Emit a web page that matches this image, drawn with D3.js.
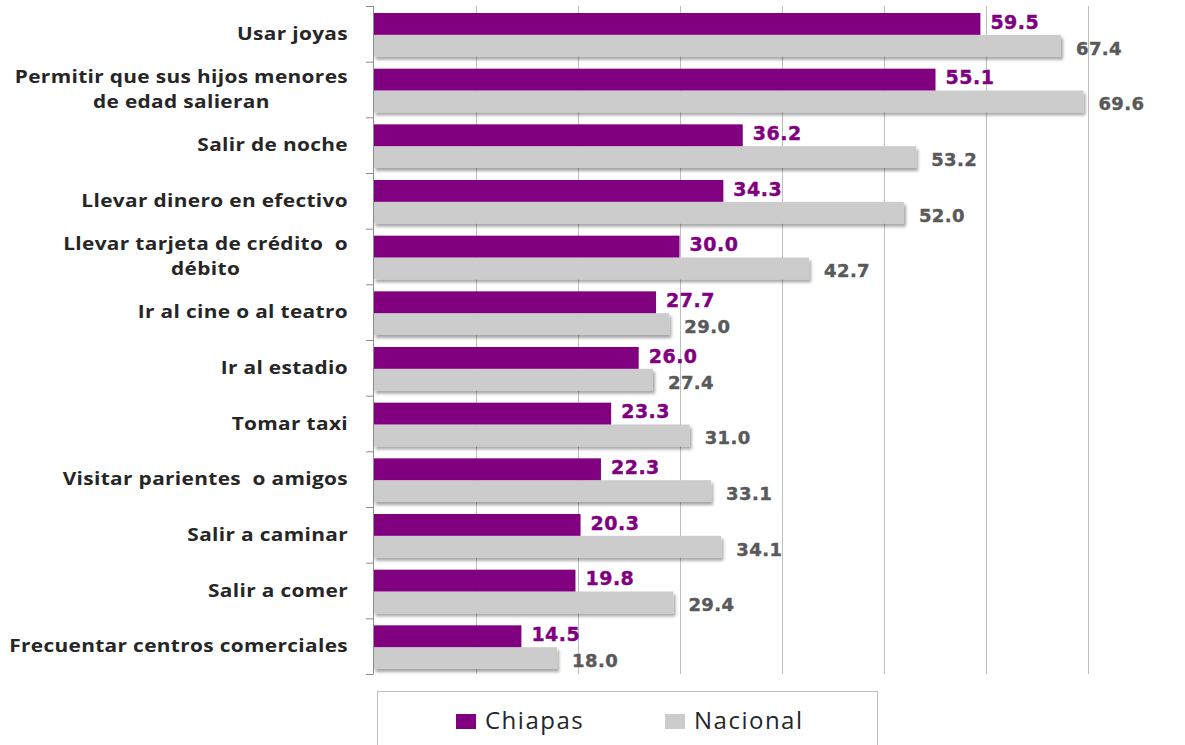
<!DOCTYPE html>
<html>
<head>
<meta charset="utf-8">
<script src="https://cdn.jsdelivr.net/npm/d3@7"></script>
<style>
	body { margin: 0; background: #fff; }
	svg { display: block; }
</style>
</head>
<body>
<svg id="chart"></svg>
<script>
/* chart data */
var categories = [
	["Usar joyas"],
	["Permitir que sus hijos menores", "de edad salieran"],
	["Salir de noche"],
	["Llevar dinero en efectivo"],
	["Llevar tarjeta de crédito  o", "débito"],
	["Ir al cine o al teatro"],
	["Ir al estadio"],
	["Tomar taxi"],
	["Visitar parientes  o amigos"],
	["Salir a caminar"],
	["Salir a comer"],
	["Frecuentar centros comerciales"]
];
var chiapas = [59.5, 55.1, 36.2, 34.3, 30.0, 27.7, 26.0, 23.3, 22.3, 20.3, 19.8, 14.5];
var nacional = [67.4, 69.6, 53.2, 52.0, 42.7, 29.0, 27.4, 31.0, 33.1, 34.1, 29.4, 18.0];
var series = ["Chiapas", "Nacional"];
var x_ticks = [10, 20, 30, 40, 50, 60, 70, 80];

var colors = { "Chiapas": "#800080", "Nacional": "#cccccc" };

var width = 1185, height = 745;

var svg = d3.select("#chart")
	.attr("width", width)
	.attr("height", height);

// drop shadow for the grey bars
var defs = svg.append("defs");
var shadow = defs.append("filter").attr("id", "shadow")
	.attr("x", "-5%").attr("y", "-20%").attr("width", "115%").attr("height", "160%");
shadow.append("feDropShadow")
	.attr("dx", 2).attr("dy", 3)
	.attr("stdDeviation", 1.6)
	.attr("flood-color", "#000")
	.attr("flood-opacity", 0.35);

var x = d3.scaleLinear().domain([0, 80]).range([373.5, 373.5 + 816]);

var y = d3.scaleBand()
	.domain(d3.range(categories.length))
	.range([6, 674]);

// two bars per category: inner band
var y_inner = d3.scaleBand()
	.domain(series)
	.range([7, y.bandwidth() - 5]);

// gridlines
svg.append("g").attr("class", "grid")
	.selectAll("line")
	.data(x_ticks)
	.enter().append("line")
	.attr("x1", function(d){ return Math.round(x(d)) + 0.5; })
	.attr("x2", function(d){ return Math.round(x(d)) + 0.5; })
	.attr("y1", y.range()[0])
	.attr("y2", y.range()[1])
	.attr("stroke", "#bfbfbf")
	.attr("stroke-width", 1);

// bars
var rows = svg.append("g").attr("class", "bars")
	.selectAll("g")
	.data(categories)
	.enter().append("g")
	.attr("transform", function(d, i){ return "translate(0," + y(i) + ")"; });

rows.append("rect")
	.attr("x", x(0))
	.attr("y", y_inner("Nacional"))
	.attr("width", function(d, i){ return x(nacional[i]) - x(0); })
	.attr("height", y_inner.bandwidth())
	.attr("fill", colors["Nacional"])
	.attr("filter", "url(#shadow)");

rows.append("rect")
	.attr("x", x(0))
	.attr("y", y_inner("Chiapas"))
	.attr("width", function(d, i){ return x(chiapas[i]) - x(0); })
	.attr("height", y_inner.bandwidth())
	.attr("fill", colors["Chiapas"]);

// value labels
rows.append("text")
	.attr("x", function(d, i){ return x(chiapas[i]) + 10; })
	.attr("y", y_inner("Chiapas") + y_inner.bandwidth() / 2 - 2)
	.attr("dy", "0.36em")
	.attr("font-family", "DejaVu Sans")
	.attr("font-weight", "bold")
	.attr("font-size", 19)
	.attr("letter-spacing", 0.5)
	.attr("stroke", colors["Chiapas"])
	.attr("stroke-width", 0.4)
	.attr("fill", colors["Chiapas"])
	.text(function(d, i){ return chiapas[i].toFixed(1); });

rows.append("text")
	.attr("x", function(d, i){ return x(nacional[i]) + 15; })
	.attr("y", y_inner("Nacional") + y_inner.bandwidth() / 2 + 2.5)
	.attr("dy", "0.36em")
	.attr("font-family", "DejaVu Sans")
	.attr("font-weight", "bold")
	.attr("font-size", 18)
	.attr("letter-spacing", 0.4)
	.attr("stroke", "#595959")
	.attr("stroke-width", 0.4)
	.attr("fill", "#595959")
	.text(function(d, i){ return nacional[i].toFixed(1); });

// left axis with outward ticks at band edges
var axis = svg.append("g").attr("class", "axis");
axis.append("line")
	.attr("x1", 373.5).attr("x2", 373.5)
	.attr("y1", y.range()[0]).attr("y2", y.range()[1])
	.attr("stroke", "#8c8c8c");
axis.selectAll("line.tick")
	.data(d3.range(categories.length + 1))
	.enter().append("line")
	.attr("class", "tick")
	.attr("x1", 366).attr("x2", 373.5)
	.attr("y1", function(d){ return y.range()[0] + d * y.step() + 0.5; })
	.attr("y2", function(d){ return y.range()[0] + d * y.step() + 0.5; })
	.attr("stroke", "#8c8c8c");

// category labels (glyphs are drawn wide in the original, so stretch them)
var line_height = 25;
var stretch = 1.19;
var labels = svg.append("g").attr("class", "labels")
	.selectAll("g")
	.data(categories)
	.enter().append("g")
	.attr("transform", function(d, i){
		return "translate(348," + (y(i) + y.bandwidth() / 2) + ") scale(" + stretch + ",1)";
	});

labels.each(function(lines){
	var g = d3.select(this);
	var first = null;
	lines.forEach(function(line, k){
		var t = g.append("text")
			.attr("y", (k - (lines.length - 1) / 2) * line_height)
			.attr("dy", "0.35em")
			.attr("font-family", "Open Sans")
			.attr("font-weight", "bold")
			.attr("font-size", 17.5)
			.attr("letter-spacing", 0.3)
			.attr("fill", "#262626")
			.attr("xml:space", "preserve")
			.text(line);
		if(k == 0){
			t.attr("x", 0).attr("text-anchor", "end");
			first = t.node().getComputedTextLength();
		} else {
			t.attr("x", -first / 2).attr("text-anchor", "middle");
		}
	});
});

// legend
var legend = svg.append("g").attr("class", "legend");
legend.append("rect")
	.attr("x", 377.5).attr("y", 691.5)
	.attr("width", 500).attr("height", 80)
	.attr("fill", "#fff")
	.attr("stroke", "#bfbfbf");

var legend_x = { "Chiapas": 456, "Nacional": 665 };
var item = legend.selectAll("g")
	.data(series)
	.enter().append("g")
	.attr("transform", function(d){ return "translate(" + legend_x[d] + ",714)"; });

item.append("rect")
	.attr("width", 20).attr("height", 15)
	.attr("fill", function(d){ return colors[d]; });

item.append("text")
	.attr("x", 29)
	.attr("y", 15)
	.attr("font-family", "Open Sans")
	.attr("font-size", 24)
	.attr("letter-spacing", 1.5)
	.attr("fill", "#262626")
	.text(function(d){ return d; });
</script>
</body>
</html>
